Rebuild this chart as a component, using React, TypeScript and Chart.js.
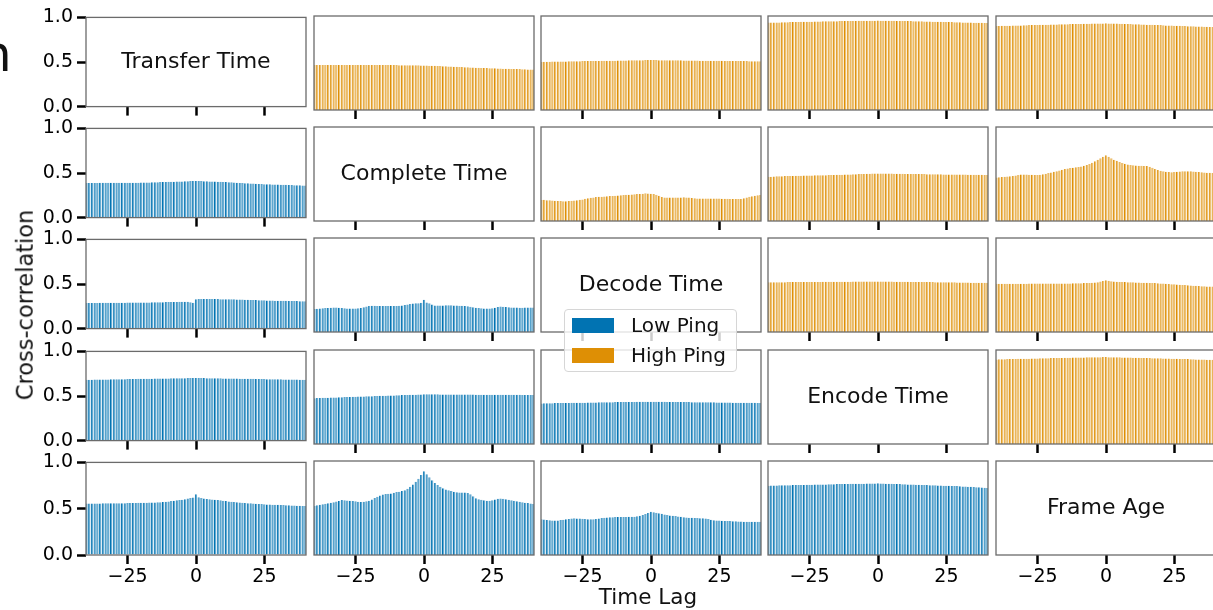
import React, { useEffect, useRef } from "react";
import { Chart, registerables } from "chart.js";

Chart.register(...registerables);
Chart.defaults.font.family = "'DejaVu Sans', sans-serif";

// Lags of the cross-correlation, in samples
const LAGS = Array.from({ length: 81 }, (_, i) => i - 40);
const X_TICKS = [-25, 0, 25];
const Y_TICKS = [0, 0.5, 1];
const VARIABLES = ["Transfer Time", "Complete Time", "Decode Time", "Encode Time", "Frame Age"];
const LOW_PING = "Low Ping";
const HIGH_PING = "High Ping";
const X_LABEL = "Time Lag";
const Y_LABEL = "Cross-correlation";

// ---- High Ping (upper triangle), lags -40 … 40 ----
const HIGH_TRANSFER_COMPLETE = [
  0.48, 0.48, 0.48, 0.48, 0.48, 0.48, 0.48, 0.48, 0.48, 0.48,
  0.48, 0.48, 0.48, 0.48, 0.48, 0.48, 0.48, 0.48, 0.48, 0.48,
  0.48, 0.48, 0.48, 0.48, 0.48, 0.48, 0.478, 0.478, 0.478, 0.478,
  0.478, 0.477, 0.477, 0.477, 0.476, 0.476, 0.475, 0.475, 0.475, 0.474,
  0.474, 0.473, 0.472, 0.471, 0.47, 0.468, 0.467, 0.466, 0.465, 0.463,
  0.462, 0.461, 0.46, 0.458, 0.457, 0.455, 0.454, 0.452, 0.451, 0.45,
  0.449, 0.448, 0.447, 0.446, 0.445, 0.444, 0.443, 0.442, 0.441, 0.44,
  0.439, 0.438, 0.437, 0.436, 0.436, 0.435, 0.434, 0.433, 0.432, 0.431, 0.43,
];
const HIGH_TRANSFER_DECODE = [
  0.51, 0.512, 0.513, 0.514, 0.515, 0.515, 0.516, 0.516, 0.517, 0.517,
  0.518, 0.518, 0.518, 0.519, 0.519, 0.52, 0.52, 0.52, 0.521, 0.521,
  0.522, 0.522, 0.523, 0.523, 0.524, 0.524, 0.525, 0.525, 0.526, 0.526,
  0.527, 0.527, 0.528, 0.528, 0.529, 0.529, 0.53, 0.53, 0.531, 0.531,
  0.532, 0.531, 0.531, 0.53, 0.53, 0.53, 0.529, 0.529, 0.529, 0.528,
  0.528, 0.528, 0.527, 0.527, 0.527, 0.526, 0.526, 0.526, 0.525, 0.525,
  0.525, 0.524, 0.524, 0.524, 0.523, 0.523, 0.523, 0.522, 0.522, 0.522,
  0.521, 0.521, 0.521, 0.52, 0.52, 0.52, 0.519, 0.519, 0.519, 0.518, 0.518,
];
const HIGH_TRANSFER_ENCODE = [
  0.93, 0.93, 0.931, 0.932, 0.932, 0.933, 0.934, 0.934, 0.935, 0.936,
  0.936, 0.937, 0.938, 0.938, 0.939, 0.94, 0.94, 0.941, 0.942, 0.942,
  0.943, 0.943, 0.944, 0.944, 0.945, 0.945, 0.946, 0.946, 0.947, 0.947,
  0.948, 0.948, 0.948, 0.949, 0.949, 0.949, 0.95, 0.95, 0.95, 0.95,
  0.951, 0.95, 0.95, 0.95, 0.949, 0.949, 0.949, 0.948, 0.948, 0.947,
  0.947, 0.946, 0.946, 0.945, 0.944, 0.944, 0.943, 0.942, 0.942, 0.941,
  0.94, 0.94, 0.939, 0.938, 0.937, 0.937, 0.936, 0.935, 0.934, 0.934,
  0.933, 0.932, 0.931, 0.931, 0.93, 0.929, 0.928, 0.928, 0.927, 0.926, 0.925,
];
const HIGH_TRANSFER_FRAMEAGE = [
  0.893, 0.894, 0.895, 0.896, 0.897, 0.897, 0.898, 0.899, 0.9, 0.9,
  0.901, 0.902, 0.903, 0.903, 0.904, 0.905, 0.906, 0.906, 0.907, 0.908,
  0.909, 0.909, 0.91, 0.911, 0.912, 0.912, 0.913, 0.914, 0.915, 0.915,
  0.916, 0.916, 0.917, 0.918, 0.918, 0.919, 0.919, 0.92, 0.92, 0.921,
  0.922, 0.921, 0.92, 0.92, 0.919, 0.918, 0.917, 0.916, 0.915, 0.914,
  0.913, 0.912, 0.911, 0.91, 0.909, 0.908, 0.907, 0.906, 0.905, 0.904,
  0.903, 0.902, 0.9, 0.899, 0.898, 0.897, 0.896, 0.895, 0.894, 0.893,
  0.892, 0.891, 0.89, 0.889, 0.888, 0.887, 0.886, 0.885, 0.884, 0.883, 0.882,
];
const HIGH_COMPLETE_DECODE = [
  0.223, 0.225, 0.222, 0.22, 0.218, 0.216, 0.214, 0.212, 0.211, 0.21,
  0.212, 0.215, 0.218, 0.222, 0.226, 0.23, 0.236, 0.242, 0.247, 0.251,
  0.255, 0.257, 0.259, 0.261, 0.263, 0.265, 0.267, 0.269, 0.27, 0.273,
  0.276, 0.278, 0.28, 0.282, 0.284, 0.286, 0.288, 0.291, 0.294, 0.292,
  0.289, 0.287, 0.28, 0.268, 0.255, 0.25, 0.25, 0.249, 0.25, 0.251,
  0.25, 0.251, 0.252, 0.25, 0.249, 0.246, 0.243, 0.24, 0.24, 0.24,
  0.24, 0.24, 0.24, 0.24, 0.24, 0.239, 0.238, 0.237, 0.236, 0.235,
  0.235, 0.234, 0.234, 0.235, 0.242, 0.25, 0.258, 0.264, 0.269, 0.273, 0.277,
];
const HIGH_COMPLETE_ENCODE = [
  0.47, 0.472, 0.474, 0.475, 0.476, 0.477, 0.478, 0.479, 0.48, 0.48,
  0.481, 0.482, 0.482, 0.483, 0.484, 0.484, 0.485, 0.486, 0.486, 0.487,
  0.488, 0.488, 0.489, 0.49, 0.49, 0.491, 0.492, 0.493, 0.494, 0.495,
  0.496, 0.497, 0.498, 0.499, 0.5, 0.501, 0.502, 0.503, 0.504, 0.505,
  0.506, 0.506, 0.505, 0.505, 0.504, 0.504, 0.503, 0.503, 0.502, 0.502,
  0.501, 0.501, 0.5, 0.5, 0.5, 0.499, 0.499, 0.499, 0.498, 0.498,
  0.498, 0.497, 0.497, 0.497, 0.496, 0.496, 0.496, 0.495, 0.495, 0.495,
  0.494, 0.494, 0.494, 0.493, 0.493, 0.492, 0.492, 0.491, 0.491, 0.49, 0.49,
];
const HIGH_COMPLETE_FRAMEAGE = [
  0.462, 0.465, 0.468, 0.471, 0.474, 0.477, 0.48, 0.485, 0.49, 0.495,
  0.496, 0.495, 0.493, 0.492, 0.49, 0.49, 0.492, 0.497, 0.503, 0.51,
  0.517, 0.523, 0.53, 0.537, 0.545, 0.553, 0.558, 0.563, 0.567, 0.571,
  0.575, 0.58, 0.587, 0.596, 0.607, 0.62, 0.635, 0.652, 0.668, 0.684,
  0.7, 0.684, 0.668, 0.652, 0.64, 0.628, 0.617, 0.608, 0.602, 0.597,
  0.594, 0.591, 0.589, 0.587, 0.586, 0.585, 0.578, 0.566, 0.554, 0.543,
  0.535, 0.529, 0.524, 0.52, 0.519, 0.52, 0.523, 0.526, 0.529, 0.53,
  0.53, 0.529, 0.527, 0.525, 0.522, 0.519, 0.516, 0.514, 0.512, 0.51, 0.507,
];
const HIGH_DECODE_ENCODE = [
  0.528, 0.528, 0.529, 0.529, 0.53, 0.53, 0.53, 0.531, 0.531, 0.531,
  0.531, 0.532, 0.532, 0.532, 0.532, 0.533, 0.533, 0.533, 0.533, 0.533,
  0.534, 0.534, 0.534, 0.534, 0.534, 0.535, 0.535, 0.535, 0.535, 0.535,
  0.535, 0.536, 0.536, 0.536, 0.536, 0.536, 0.536, 0.537, 0.537, 0.537,
  0.537, 0.537, 0.536, 0.536, 0.536, 0.536, 0.535, 0.535, 0.535, 0.534,
  0.534, 0.534, 0.533, 0.533, 0.533, 0.532, 0.532, 0.532, 0.531, 0.531,
  0.531, 0.53, 0.53, 0.53, 0.529, 0.529, 0.529, 0.528, 0.528, 0.527,
  0.527, 0.527, 0.526, 0.526, 0.525, 0.525, 0.525, 0.524, 0.524, 0.523, 0.523,
];
const HIGH_DECODE_FRAMEAGE = [
  0.512, 0.512, 0.512, 0.513, 0.513, 0.513, 0.513, 0.514, 0.514, 0.514,
  0.514, 0.514, 0.515, 0.515, 0.515, 0.515, 0.515, 0.515, 0.516, 0.516,
  0.516, 0.516, 0.516, 0.516, 0.517, 0.517, 0.517, 0.517, 0.518, 0.518,
  0.518, 0.519, 0.52, 0.52, 0.521, 0.523, 0.526, 0.53, 0.536, 0.543,
  0.55, 0.545, 0.54, 0.537, 0.535, 0.533, 0.532, 0.531, 0.53, 0.529,
  0.528, 0.527, 0.526, 0.525, 0.524, 0.523, 0.522, 0.521, 0.52, 0.519,
  0.517, 0.515, 0.513, 0.511, 0.509, 0.507, 0.505, 0.503, 0.501, 0.499,
  0.497, 0.495, 0.493, 0.491, 0.489, 0.488, 0.486, 0.485, 0.484, 0.483, 0.482,
];
const HIGH_ENCODE_FRAMEAGE = [
  0.9, 0.901, 0.902, 0.902, 0.903, 0.904, 0.904, 0.905, 0.906, 0.906,
  0.907, 0.908, 0.908, 0.909, 0.91, 0.91, 0.911, 0.912, 0.912, 0.913,
  0.914, 0.914, 0.915, 0.916, 0.916, 0.917, 0.918, 0.918, 0.919, 0.92,
  0.92, 0.921, 0.921, 0.922, 0.922, 0.923, 0.923, 0.924, 0.924, 0.925,
  0.925, 0.924, 0.924, 0.923, 0.922, 0.922, 0.921, 0.92, 0.92, 0.919,
  0.918, 0.918, 0.917, 0.916, 0.915, 0.915, 0.914, 0.913, 0.912, 0.912,
  0.911, 0.91, 0.909, 0.909, 0.908, 0.907, 0.906, 0.905, 0.905, 0.904,
  0.903, 0.902, 0.901, 0.9, 0.9, 0.899, 0.898, 0.897, 0.896, 0.895, 0.894,
];

// ---- Low Ping (lower triangle), lags -40 … 40 ----
const LOW_COMPLETE_TRANSFER = [
  0.388, 0.388, 0.389, 0.389, 0.389, 0.39, 0.39, 0.39, 0.39, 0.39,
  0.39, 0.39, 0.39, 0.391, 0.391, 0.391, 0.391, 0.392, 0.392, 0.392,
  0.393, 0.393, 0.394, 0.394, 0.395, 0.396, 0.397, 0.398, 0.399, 0.4,
  0.401, 0.402, 0.403, 0.404, 0.405, 0.406, 0.407, 0.408, 0.409, 0.41,
  0.411, 0.41, 0.409, 0.408, 0.407, 0.406, 0.405, 0.404, 0.403, 0.402,
  0.4, 0.398, 0.396, 0.395, 0.393, 0.391, 0.389, 0.387, 0.386, 0.384,
  0.383, 0.381, 0.38, 0.378, 0.377, 0.375, 0.374, 0.373, 0.372, 0.371,
  0.37, 0.369, 0.368, 0.367, 0.366, 0.365, 0.364, 0.363, 0.362, 0.361, 0.36,
];
const LOW_DECODE_TRANSFER = [
  0.287, 0.287, 0.288, 0.288, 0.288, 0.289, 0.289, 0.289, 0.29, 0.29,
  0.29, 0.29, 0.291, 0.291, 0.291, 0.292, 0.292, 0.292, 0.293, 0.293,
  0.293, 0.294, 0.294, 0.294, 0.295, 0.295, 0.295, 0.296, 0.296, 0.297,
  0.297, 0.298, 0.298, 0.299, 0.3, 0.301, 0.302, 0.3, 0.296, 0.29,
  0.33, 0.331, 0.331, 0.332, 0.332, 0.332, 0.331, 0.331, 0.331, 0.33,
  0.33, 0.33, 0.329, 0.329, 0.328, 0.327, 0.326, 0.325, 0.324, 0.323,
  0.322, 0.321, 0.32, 0.319, 0.318, 0.317, 0.316, 0.315, 0.314, 0.313,
  0.312, 0.312, 0.311, 0.311, 0.31, 0.31, 0.309, 0.309, 0.308, 0.308, 0.307,
];
const LOW_DECODE_COMPLETE = [
  0.246, 0.248, 0.25, 0.252, 0.254, 0.256, 0.258, 0.26, 0.26, 0.258,
  0.255, 0.252, 0.25, 0.25, 0.25, 0.251, 0.252, 0.254, 0.262, 0.27,
  0.277, 0.278, 0.278, 0.277, 0.277, 0.276, 0.276, 0.277, 0.277, 0.277,
  0.277, 0.279, 0.283, 0.288, 0.293, 0.298, 0.302, 0.305, 0.306, 0.312,
  0.342, 0.315, 0.305, 0.293, 0.283, 0.282, 0.282, 0.283, 0.284, 0.284,
  0.284, 0.283, 0.281, 0.28, 0.279, 0.277, 0.274, 0.268, 0.262, 0.257,
  0.254, 0.252, 0.25, 0.25, 0.25, 0.252, 0.258, 0.265, 0.27, 0.268,
  0.265, 0.263, 0.261, 0.26, 0.26, 0.259, 0.259, 0.26, 0.26, 0.26, 0.26,
];
const LOW_ENCODE_TRANSFER = [
  0.682, 0.683, 0.683, 0.684, 0.684, 0.685, 0.685, 0.686, 0.686, 0.687,
  0.687, 0.688, 0.688, 0.689, 0.689, 0.69, 0.69, 0.691, 0.691, 0.692,
  0.692, 0.693, 0.693, 0.694, 0.694, 0.695, 0.695, 0.696, 0.696, 0.697,
  0.697, 0.698, 0.698, 0.699, 0.699, 0.7, 0.7, 0.701, 0.701, 0.702,
  0.703, 0.702, 0.701, 0.701, 0.7, 0.7, 0.699, 0.699, 0.698, 0.698,
  0.697, 0.697, 0.696, 0.696, 0.695, 0.695, 0.694, 0.694, 0.693, 0.693,
  0.692, 0.692, 0.691, 0.691, 0.69, 0.69, 0.689, 0.689, 0.688, 0.688,
  0.687, 0.687, 0.686, 0.686, 0.685, 0.685, 0.684, 0.684, 0.683, 0.683, 0.682,
];
const LOW_ENCODE_COMPLETE = [
  0.488, 0.489, 0.49, 0.491, 0.492, 0.493, 0.494, 0.495, 0.496, 0.497,
  0.498, 0.499, 0.5, 0.501, 0.502, 0.503, 0.504, 0.505, 0.506, 0.507,
  0.508, 0.509, 0.51, 0.511, 0.512, 0.513, 0.514, 0.515, 0.516, 0.517,
  0.518, 0.519, 0.52, 0.521, 0.522, 0.523, 0.524, 0.525, 0.526, 0.527,
  0.528, 0.528, 0.528, 0.528, 0.528, 0.528, 0.527, 0.527, 0.527, 0.527,
  0.527, 0.527, 0.527, 0.526, 0.526, 0.526, 0.526, 0.526, 0.526, 0.525,
  0.525, 0.525, 0.525, 0.525, 0.525, 0.524, 0.524, 0.524, 0.524, 0.524,
  0.524, 0.523, 0.523, 0.523, 0.523, 0.523, 0.522, 0.522, 0.522, 0.522, 0.522,
];
const LOW_ENCODE_DECODE = [
  0.432, 0.433, 0.433, 0.434, 0.434, 0.435, 0.435, 0.436, 0.436, 0.437,
  0.437, 0.438, 0.438, 0.439, 0.439, 0.44, 0.44, 0.441, 0.441, 0.442,
  0.442, 0.443, 0.443, 0.444, 0.444, 0.445, 0.445, 0.446, 0.446, 0.447,
  0.447, 0.447, 0.448, 0.448, 0.448, 0.449, 0.449, 0.449, 0.45, 0.45,
  0.45, 0.45, 0.45, 0.449, 0.449, 0.449, 0.448, 0.448, 0.448, 0.447,
  0.447, 0.447, 0.446, 0.446, 0.446, 0.445, 0.445, 0.445, 0.444, 0.444,
  0.444, 0.443, 0.443, 0.443, 0.442, 0.442, 0.442, 0.441, 0.441, 0.441,
  0.44, 0.44, 0.44, 0.439, 0.439, 0.439, 0.438, 0.438, 0.438, 0.437, 0.437,
];
const LOW_FRAMEAGE_TRANSFER = [
  0.555, 0.556, 0.556, 0.557, 0.557, 0.557, 0.558, 0.558, 0.558, 0.559,
  0.559, 0.559, 0.56, 0.56, 0.56, 0.561, 0.561, 0.562, 0.562, 0.563,
  0.563, 0.564, 0.565, 0.566, 0.567, 0.568, 0.569, 0.571, 0.573, 0.575,
  0.578, 0.582, 0.586, 0.59, 0.594, 0.598, 0.603, 0.609, 0.615, 0.622,
  0.656, 0.625, 0.615, 0.61, 0.606, 0.603, 0.6, 0.597, 0.594, 0.59,
  0.586, 0.582, 0.578, 0.575, 0.572, 0.569, 0.566, 0.564, 0.562, 0.56,
  0.558, 0.556, 0.554, 0.552, 0.55, 0.548, 0.546, 0.545, 0.544, 0.543,
  0.542, 0.541, 0.54, 0.538, 0.537, 0.535, 0.534, 0.532, 0.531, 0.53, 0.528,
];
const LOW_FRAMEAGE_COMPLETE = [
  0.525, 0.53, 0.535, 0.54, 0.545, 0.55, 0.556, 0.562, 0.568, 0.575,
  0.584, 0.583, 0.58, 0.577, 0.575, 0.572, 0.566, 0.565, 0.567, 0.571,
  0.578, 0.59, 0.606, 0.62, 0.633, 0.643, 0.65, 0.652, 0.655, 0.662,
  0.67, 0.674, 0.68, 0.69, 0.704, 0.725, 0.75, 0.778, 0.81, 0.85,
  0.89, 0.86, 0.826, 0.795, 0.765, 0.745, 0.725, 0.71, 0.698, 0.69,
  0.68, 0.672, 0.668, 0.666, 0.665, 0.665, 0.66, 0.645, 0.625, 0.603,
  0.593, 0.587, 0.583, 0.578, 0.578, 0.582, 0.59, 0.598, 0.6, 0.598,
  0.594, 0.588, 0.583, 0.577, 0.572, 0.567, 0.562, 0.557, 0.552, 0.548, 0.543,
];
const LOW_FRAMEAGE_DECODE = [
  0.38, 0.377, 0.373, 0.37, 0.367, 0.366, 0.368, 0.372, 0.376, 0.38,
  0.384, 0.387, 0.39, 0.389, 0.387, 0.385, 0.383, 0.381, 0.38, 0.381,
  0.384, 0.388, 0.393, 0.397, 0.4, 0.401, 0.402, 0.403, 0.403, 0.404,
  0.404, 0.405, 0.406, 0.407, 0.408, 0.412, 0.418, 0.426, 0.436, 0.448,
  0.46, 0.455, 0.449, 0.444, 0.438, 0.432, 0.426, 0.421, 0.417, 0.414,
  0.41, 0.406, 0.402, 0.398, 0.396, 0.395, 0.394, 0.393, 0.392, 0.391,
  0.389, 0.383, 0.376, 0.37, 0.368, 0.366, 0.365, 0.363, 0.362, 0.361,
  0.36, 0.358, 0.357, 0.356, 0.355, 0.355, 0.355, 0.355, 0.355, 0.354, 0.354,
];
const LOW_FRAMEAGE_ENCODE = [
  0.738, 0.739, 0.739, 0.74, 0.741, 0.741, 0.742, 0.743, 0.743, 0.744,
  0.745, 0.745, 0.746, 0.746, 0.747, 0.748, 0.748, 0.749, 0.749, 0.75,
  0.751, 0.751, 0.752, 0.752, 0.753, 0.754, 0.754, 0.755, 0.755, 0.756,
  0.757, 0.757, 0.758, 0.758, 0.759, 0.759, 0.76, 0.76, 0.761, 0.761,
  0.762, 0.761, 0.76, 0.759, 0.758, 0.757, 0.756, 0.755, 0.754, 0.753,
  0.752, 0.751, 0.75, 0.749, 0.748, 0.747, 0.746, 0.745, 0.744, 0.743,
  0.742, 0.741, 0.74, 0.739, 0.738, 0.737, 0.736, 0.735, 0.734, 0.733,
  0.732, 0.73, 0.729, 0.727, 0.726, 0.724, 0.722, 0.72, 0.718, 0.716, 0.714,
];

// Grid of series: row variable × column variable; diagonal holds the names
const GRID: (number[] | null)[][] = [
  [null, HIGH_TRANSFER_COMPLETE, HIGH_TRANSFER_DECODE, HIGH_TRANSFER_ENCODE, HIGH_TRANSFER_FRAMEAGE],
  [LOW_COMPLETE_TRANSFER, null, HIGH_COMPLETE_DECODE, HIGH_COMPLETE_ENCODE, HIGH_COMPLETE_FRAMEAGE],
  [LOW_DECODE_TRANSFER, LOW_DECODE_COMPLETE, null, HIGH_DECODE_ENCODE, HIGH_DECODE_FRAMEAGE],
  [LOW_ENCODE_TRANSFER, LOW_ENCODE_COMPLETE, LOW_ENCODE_DECODE, null, HIGH_ENCODE_FRAMEAGE],
  [LOW_FRAMEAGE_TRANSFER, LOW_FRAMEAGE_COMPLETE, LOW_FRAMEAGE_DECODE, LOW_FRAMEAGE_ENCODE, null],
];

const BLUE = "#0173b2";
const BLUE_FILL = "rgba(1,115,178,0.6)";
const ORANGE = "#de8f05";
const ORANGE_FILL = "rgba(222,143,5,0.55)";

// Layout of the panel grid (pixels)
const COL_LEFT = [86, 314, 541, 768, 996];
const ROW_TOP = [16, 127, 238, 350, 461];
const PANEL_W = 220;
const PANEL_H = 94;
const PAD_T = 14;
const PAD_R = 2;
const Y_AXIS_W = 86;
const X_AXIS_H = 12;
const X_AXIS_H_LABELED = 42;

const TICK_FONT = { family: "'DejaVu Sans', sans-serif", size: 19 };

function Panel({ r, c }: { r: number; c: number }) {
  const ref = useRef<HTMLCanvasElement>(null);
  const left = c === 0 ? Y_AXIS_W : 2;
  const bottom = r === 4 ? X_AXIS_H_LABELED : X_AXIS_H;
  const w = left + PANEL_W + PAD_R;
  const h = PAD_T + PANEL_H + bottom;

  useEffect(() => {
    const values = GRID[r][c];
    const isHigh = c > r;
    const title = r === c ? VARIABLES[r] : null;

    const frame = {
      id: "panelFrame",
      afterDatasetsDraw(chart: any) {
        const { ctx, chartArea: a } = chart;
        ctx.save();
        ctx.strokeStyle = "#6b6b6b";
        ctx.lineWidth = 1.3;
        ctx.strokeRect(a.left, a.top, a.right - a.left, a.bottom - a.top);
        if (title) {
          ctx.fillStyle = "#111";
          ctx.font = "22px 'DejaVu Sans', sans-serif";
          ctx.textAlign = "center";
          ctx.textBaseline = "middle";
          ctx.fillText(title, (a.left + a.right) / 2, (a.top + a.bottom) / 2);
        }
        if (r === 0 && c === 0) {
          ctx.fillStyle = "#111";
          ctx.font = "50px 'DejaVu Sans', sans-serif";
          ctx.textAlign = "left";
          ctx.textBaseline = "alphabetic";
          ctx.fillText("n", -20, 70.5 - ROW_TOP[0] + PAD_T);
        }
        ctx.restore();
      },
    };

    const chart = new Chart(ref.current as HTMLCanvasElement, {
      type: "bar",
      data: {
        datasets: [
          {
            label: isHigh ? HIGH_PING : LOW_PING,
            data: values ? LAGS.map((x, i) => ({ x, y: values[i] })) : [],
            backgroundColor: isHigh ? ORANGE_FILL : BLUE_FILL,
            borderColor: isHigh ? ORANGE : BLUE,
            borderWidth: { top: 0, right: 0, bottom: 0, left: 1 },
            borderSkipped: "start",
            barPercentage: 0.85,
            categoryPercentage: 1,
          } as any,
        ],
      },
      options: {
        animation: false,
        responsive: false,
        devicePixelRatio: 1,
        layout: { padding: { top: PAD_T, right: PAD_R, bottom: 0, left: c === 0 ? 0 : left } },
        plugins: { legend: { display: false }, tooltip: { enabled: false } },
        scales: {
          x: {
            type: "linear",
            min: -40.2,
            max: 40.2,
            offset: false,
            afterBuildTicks: (s: any) => {
              s.ticks = X_TICKS.map((v) => ({ value: v }));
            },
            afterFit: (s: any) => {
              s.height = bottom;
            },
            grid: {
              offset: false,
              drawOnChartArea: false,
              drawTicks: true,
              tickLength: 9,
              tickWidth: 2.5,
              tickColor: "#000",
            },
            border: { display: false },
            ticks: {
              display: r === 4,
              autoSkip: false,
              maxRotation: 0,
              padding: 2,
              color: "#000",
              font: TICK_FONT,
              callback: (v: any) => (Number(v) < 0 ? "\u2212" + Math.abs(Number(v)) : String(v)),
            },
          },
          y: {
            display: c === 0,
            min: 0,
            max: 1,
            afterBuildTicks: (s: any) => {
              s.ticks = Y_TICKS.map((v) => ({ value: v }));
            },
            afterFit: (s: any) => {
              s.width = c === 0 ? Y_AXIS_W : 0;
            },
            grid: {
              offset: false,
              drawOnChartArea: false,
              drawTicks: true,
              tickLength: 9,
              tickWidth: 2.5,
              tickColor: "#000",
            },
            border: { display: false },
            ticks: {
              padding: 4,
              color: "#000",
              font: TICK_FONT,
              callback: (v: any) => Number(v).toFixed(1),
            },
          },
        },
      } as any,
      plugins: [frame],
    });
    return () => chart.destroy();
  }, [r, c]);

  return (
    <canvas
      ref={ref}
      width={w}
      height={h}
      style={{
        position: "absolute",
        left: COL_LEFT[c] - left,
        top: ROW_TOP[r] - PAD_T,
        width: w,
        height: h,
      }}
    />
  );
}

function Legend() {
  const item = (color: string, label: string, top: number) => (
    <div style={{ position: "absolute", left: 7, top, height: 15, display: "flex", alignItems: "center" }}>
      <div style={{ width: 42, height: 15, background: color }} />
      <span style={{ marginLeft: 17, fontSize: 20, lineHeight: "15px", color: "#111", whiteSpace: "nowrap" }}>{label}</span>
    </div>
  );
  return (
    <div
      style={{
        position: "absolute",
        left: 564,
        top: 309,
        width: 173,
        height: 63,
        boxSizing: "border-box",
        border: "1px solid #d6d6d6",
        borderRadius: 4,
        background: "rgba(255,255,255,0.8)",
      }}
    >
      {item(BLUE, LOW_PING, 8)}
      {item(ORANGE, HIGH_PING, 38)}
    </div>
  );
}

export default function App() {
  const cells: React.ReactElement[] = [];
  for (let r = 0; r < 5; r++) {
    for (let c = 0; c < 5; c++) {
      cells.push(<Panel key={`${r}-${c}`} r={r} c={c} />);
    }
  }
  return (
    <div
      style={{
        position: "absolute",
        left: 0,
        top: 0,
        width: 1213,
        height: 610,
        overflow: "hidden",
        background: "#fff",
        fontFamily: "'DejaVu Sans', sans-serif",
      }}
    >
      {cells}
      <Legend />
      <div
        style={{
          position: "absolute",
          left: 648,
          top: 597,
          transform: "translate(-50%, -50%)",
          fontSize: 21.5,
          lineHeight: 1,
          color: "#111",
          whiteSpace: "nowrap",
        }}
      >
        {X_LABEL}
      </div>
      <div
        style={{
          position: "absolute",
          left: 25,
          top: 305,
          transform: "translate(-50%, -50%) rotate(-90deg)",
          fontSize: 22.5,
          lineHeight: 1,
          color: "#111",
          whiteSpace: "nowrap",
        }}
      >
        {Y_LABEL}
      </div>
    </div>
  );
}
